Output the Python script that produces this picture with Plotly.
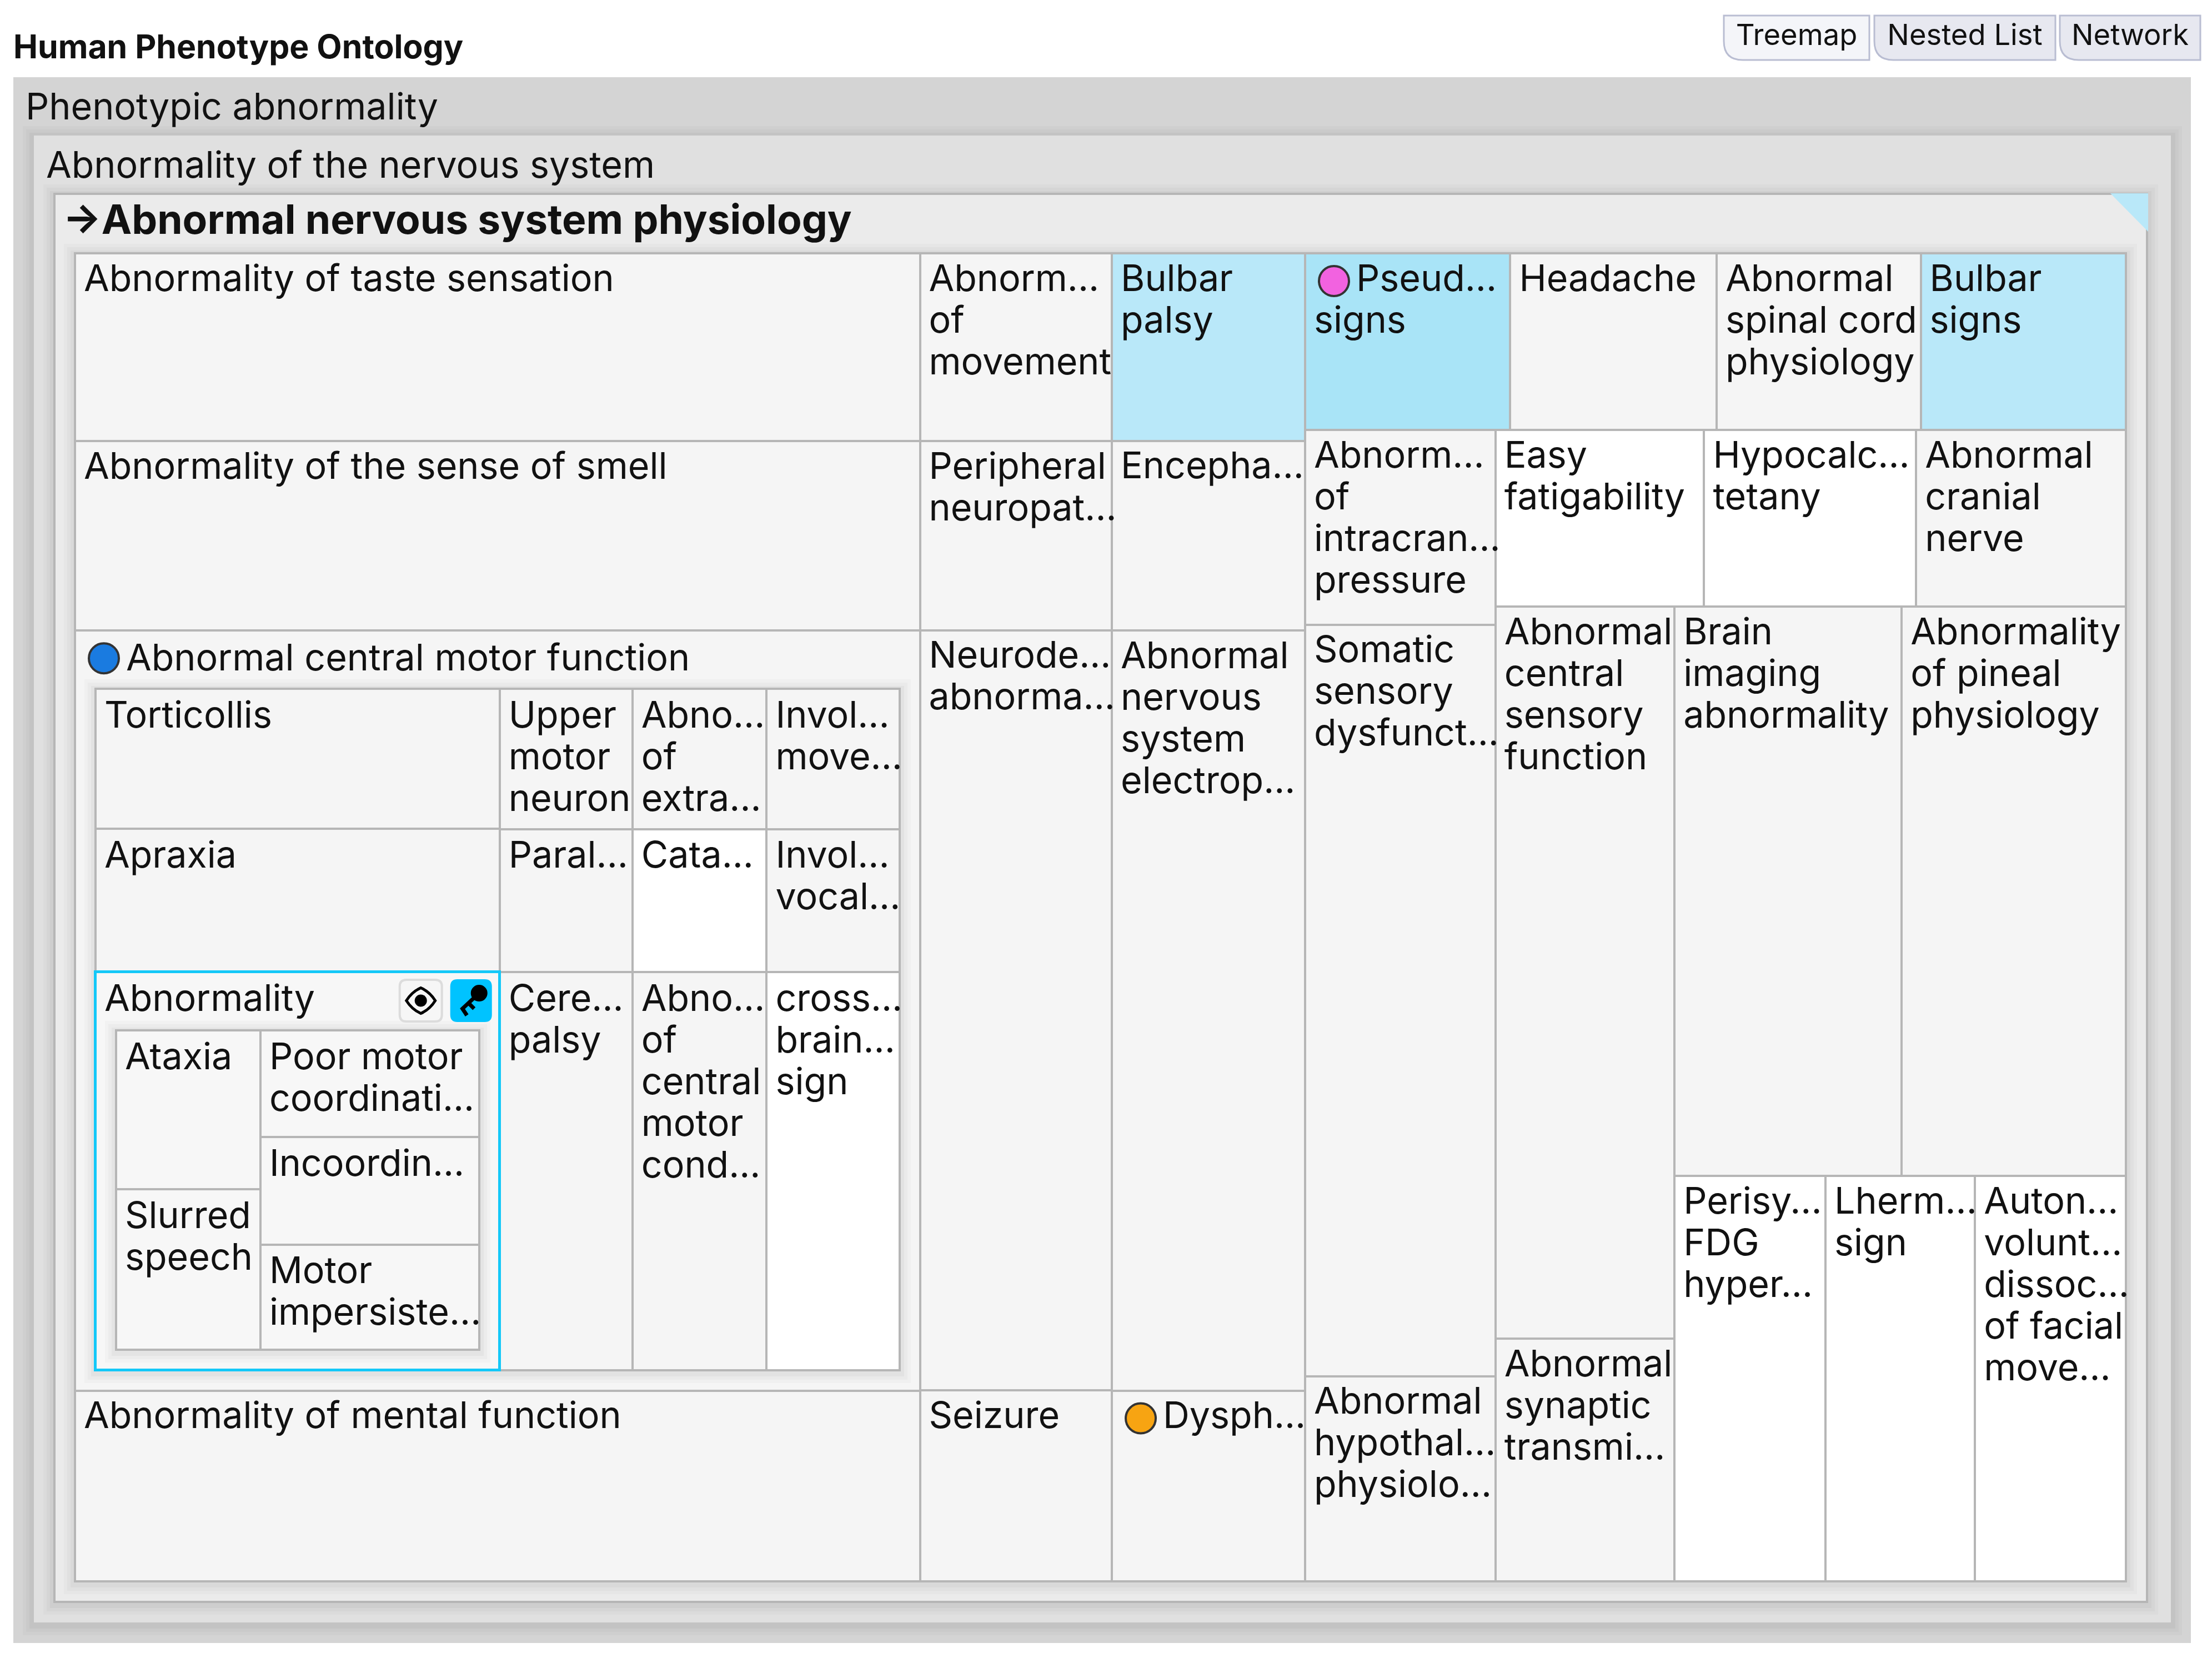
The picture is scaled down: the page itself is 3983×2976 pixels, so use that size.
import plotly.graph_objects as go

# tree of the treemap: id, parent, label and tile value
# groups with value None are only there to get the same rows and columns
NODE_IDS = ["pheno", "nervous", "physio",
            "col_a", "taste", "smell", "central", "mental",
            "col_b", "movement", "peripheral", "neurodeg", "seizure",
            "col_c", "palsy", "enceph", "electro", "dysph",
            "right", "r1", "pseud", "headache", "spinal", "bsigns",
            "r2", "r2a", "intracran", "somatic", "hypothal",
            "r2b", "r2b1", "easy", "hypocalc", "cranial",
            "r2b2", "r2c", "sensory", "synaptic",
            "r2d", "r2d1", "imaging", "pineal",
            "r2d2", "perisyl", "lherm", "auton",
            "m1", "torti", "apraxia", "abn",
            "m2", "upper", "paral", "cerebral",
            "m3", "extra", "cata", "conduct",
            "m4", "invol_move", "invol_vocal", "cross",
            "a1", "ataxia", "slurred",
            "a2", "poor", "incoord", "impersist"]
NODE_PARENTS = ["", "pheno", "nervous",
                "physio", "col_a", "col_a", "col_a", "col_a",
                "physio", "col_b", "col_b", "col_b", "col_b",
                "physio", "col_c", "col_c", "col_c", "col_c",
                "physio", "right", "r1", "r1", "r1", "r1",
                "right", "r2", "r2a", "r2a", "r2a",
                "r2", "r2b", "r2b1", "r2b1", "r2b1",
                "r2b", "r2b2", "r2c", "r2c",
                "r2b2", "r2d", "r2d1", "r2d1",
                "r2d", "r2d2", "r2d2", "r2d2",
                "central", "m1", "m1", "m1",
                "central", "m2", "m2", "m2",
                "central", "m3", "m3", "m3",
                "central", "m4", "m4", "m4",
                "abn", "a1", "a1",
                "abn", "a2", "a2", "a2"]
NODE_VALUES = [None, None, None,
               None, 797, 803, 3223, 809,
               None, 181, 182, 732, 184,
               None, 182, 184, 737, 185,
               None, None, 182, 183, 181, 182,
               None, None, 186, 718, 196,
               None, None, 185, 188, 186,
               None, None, 658, 218,
               None, None, 649, 641,
               None, 307, 304, 307,
               None, 283, 289, 804,
               None, 93, 95, 264,
               None, 94, 96, 267,
               None, 93, 95, 264,
               None, 114, 115,
               None, 116, 117, 114]
NODE_LABELS = ["Phenotypic abnormality", "Abnormality of the nervous system",
               "→Abnormal nervous system physiology",
               "", "Abnormality of taste sensation", "Abnormality of the sense of smell",
               "Abnormal central motor function", "Abnormality of mental function",
               "", "Abnorm...<br>of<br>movement", "Peripheral<br>neuropat...", "Neurode...<br>abnorma...", "Seizure",
               "", "Bulbar<br>palsy", "Encepha...", "Abnormal<br>nervous<br>system<br>electrop...", "Dysph...",
               "", "", "Pseud...<br>signs", "Headache", "Abnormal<br>spinal cord<br>physiology", "Bulbar<br>signs",
               "", "", "Abnorm...<br>of<br>intracran...<br>pressure", "Somatic<br>sensory<br>dysfunct...",
               "Abnormal<br>hypothal...<br>physiolo...",
               "", "", "Easy<br>fatigability", "Hypocalc...<br>tetany", "Abnormal<br>cranial<br>nerve",
               "", "", "Abnormal<br>central<br>sensory<br>function", "Abnormal<br>synaptic<br>transmi...",
               "", "", "Brain<br>imaging<br>abnormality", "Abnormality<br>of pineal<br>physiology",
               "", "Perisy...<br>FDG<br>hyper...", "Lherm...<br>sign", "Auton...<br>volunt...<br>dissoc...<br>of facial<br>move...",
               "", "Torticollis", "Apraxia", "Abnormality",
               "", "Upper<br>motor<br>neuron", "Paral...", "Cere...<br>palsy",
               "", "Abno...<br>of<br>extra...", "Cata...", "Abno...<br>of<br>central<br>motor<br>cond...",
               "", "Invol...<br>move...", "Invol...<br>vocal...", "cross...<br>brain...<br>sign",
               "", "Ataxia", "Slurred<br>speech",
               "", "Poor motor<br>coordinati...", "Incoordin...", "Motor<br>impersiste..."]

HEADER_NODES = ["pheno", "nervous", "physio", "central", "abn"]
ROW_SPLIT = ["col_a", "col_b", "col_c", "right", "r2a", "r2b", "r2c", "r2d",
             "m1", "m2", "m3", "m4", "a1", "a2"]
WHITE_NODES = ["easy", "hypocalc", "perisyl", "lherm", "auton", "cata", "cross"]
BLUE_NODES = ["palsy", "bsigns"]
BULLET_NODES = ["central", "pseud", "dysph"]
BULLET_COLORS = ["#1a7be0", "#f262e0", "#f7a412"]
TAB_LABELS = ["Treemap", "Nested List", "Network"]
TAB_EDGES = [(3104, 3366), (3375, 3701), (3709, 3962)]
TAB_FILLS = ["#f4f5f9", "#e7e8f0", "#e7e8f0"]

W, H = 3983, 2976
ROOT_BOX = (24, 139, 3945, 2958)
HEADER = {"physio": 107}
PAD = 37
PAD_RIGHT = {"pheno": 36, "nervous": 43, "physio": 38}
LINE_H = 75
FONT = "Inter"
FS = 66.3

children = {}
for nid, par in zip(NODE_IDS, NODE_PARENTS):
    children.setdefault(par, []).append(nid)
value_of = dict(zip(NODE_IDS, NODE_VALUES))
label_of = dict(zip(NODE_IDS, NODE_LABELS))
parent_of = dict(zip(NODE_IDS, NODE_PARENTS))


def total(nid):
    if value_of[nid] is not None:
        return value_of[nid]
    return sum(total(c) for c in children.get(nid, []))


boxes = {}
bars = []  # x0, y0, x1, y1, fill, line colour, line width


def add_bar(x0, y0, x1, y1, fill, line="rgba(0,0,0,0)", lw=0):
    bars.append((x0, y0, x1, y1, fill, line, lw))


def fill_of(nid):
    if nid == "pheno":
        return "#d4d4d4"
    if nid == "nervous":
        return "#e0e0e0"
    if nid == "physio":
        return "#ebebeb"
    if nid in WHITE_NODES:
        return "#ffffff"
    if nid in BLUE_NODES:
        return "#b9e8f9"
    if nid == "pseud":
        return "#a9e4f7"
    if nid in ("abn", "ataxia", "slurred", "poor", "incoord", "impersist"):
        return "#f7f7f7"
    return "#f5f5f5"


def layout(nid, x0, y0, x1, y1):
    boxes[nid] = (x0, y0, x1, y1)
    kids = children.get(nid, [])
    if label_of[nid]:
        if nid == "pheno" or nid == "nervous":
            add_bar(x0, y0, x1, y1, fill_of(nid))
        else:
            add_bar(x0, y0, x1, y1, fill_of(nid), "#b6b6b6", 4)
    if not kids:
        return
    if nid in HEADER_NODES:
        x0 += PAD
        y0 += HEADER.get(nid, 105)
        x1 -= PAD_RIGHT.get(nid, PAD)
        y1 -= PAD
        # soft box shadow around the nested block
        for grow, alpha in [(20, 0.02), (14, 0.025), (8, 0.03)]:
            add_bar(x0 - grow, y0 - grow + 3, x1 + grow, y1 + grow + 3, "rgba(0,0,0,%s)" % alpha)
    sum_v = sum(total(k) for k in kids)
    pos = y0 if nid in ROW_SPLIT else x0
    for k in kids:
        if nid in ROW_SPLIT:
            end = pos + (y1 - y0) * total(k) / sum_v
            layout(k, x0, pos, x1, end)
        else:
            end = pos + (x1 - x0) * total(k) / sum_v
            layout(k, pos, y0, end, y1)
        pos = end


def inside_central(nid):
    while nid:
        nid = parent_of[nid]
        if nid == "central":
            return True
    return False


def first_line_y(nid, top):
    if nid in ("pheno", "nervous"):
        return top + 59
    if nid == "central":
        return top + 55
    if inside_central(nid):
        return top + 53
    return top + 51


def rounded_rect(x0, y0, x1, y1, r):
    return (f"M {x0 + r} {y0} L {x1 - r} {y0} Q {x1} {y0} {x1} {y0 + r} L {x1} {y1 - r} "
            f"Q {x1} {y1} {x1 - r} {y1} L {x0 + r} {y1} Q {x0} {y1} {x0} {y1 - r} "
            f"L {x0} {y0 + r} Q {x0} {y0} {x0 + r} {y0} Z")


# children of pheno/nervous/physio take the whole inner box
value_of["nervous"] = 1
value_of["physio"] = 1
layout("pheno", *ROOT_BOX)

fig = go.Figure()
fig.add_trace(go.Bar(
    x=[(b[0] + b[2]) / 2 for b in bars],
    width=[b[2] - b[0] for b in bars],
    base=[b[1] for b in bars],
    y=[b[3] - b[1] for b in bars],
    marker=dict(color=[b[4] for b in bars],
                line=dict(color=[b[5] for b in bars], width=[b[6] for b in bars])),
    hoverinfo="skip", showlegend=False))

# selected tile outline sits over its neighbours
sel = boxes["abn"]
fig.add_trace(go.Bar(
    x=[(sel[0] + sel[2]) / 2], width=[sel[2] - sel[0]], base=[sel[1]], y=[sel[3] - sel[1]],
    marker=dict(color="rgba(0,0,0,0)", line=dict(color="#14c8f8", width=5)),
    hoverinfo="skip", showlegend=False))


def text_trace(xs, ys, txt, size, weight="normal", pos="middle right"):
    fig.add_trace(go.Scatter(
        x=xs, y=ys, text=txt, mode="text", textposition=pos, cliponaxis=False,
        textfont=dict(family=FONT, size=size, color="#111111", weight=weight),
        hoverinfo="skip", showlegend=False))


# tile labels, one point per line so the line pitch matches
tx, ty, tt = [], [], []
for nid in NODE_IDS:
    if not label_of[nid] or nid == "physio":
        continue
    b = boxes[nid]
    inset = 22 if nid in ("pheno", "nervous") else 16
    first_y = first_line_y(nid, b[1])
    for i, line in enumerate(label_of[nid].split("<br>")):
        indent = 76 if (i == 0 and nid in BULLET_NODES) else 0
        tx.append(b[0] + inset + indent)
        ty.append(first_y + i * LINE_H)
        tt.append(line)
text_trace(tx, ty, tt, FS)

pb = boxes["physio"]
text_trace([pb[0] + 15], [pb[1] + 54], [label_of["physio"]], 73, "bold")
text_trace([24], [90], ["Human Phenotype Ontology"], 58.9, "bold")

# bullets in front of some labels
fig.add_trace(go.Scatter(
    x=[boxes[n][0] + 52 for n in BULLET_NODES], y=[boxes[n][1] + 50 for n in BULLET_NODES],
    mode="markers",
    marker=dict(size=54, color=BULLET_COLORS, line=dict(color="#333333", width=4)),
    hoverinfo="skip", showlegend=False))

# corner flag of the focused node
fig.add_trace(go.Scatter(
    x=[pb[2] - 66, pb[2] + 2, pb[2] + 2, pb[2] - 66],
    y=[pb[1] - 1, pb[1] - 1, pb[1] + 68, pb[1] - 1],
    mode="lines", fill="toself", fillcolor="#b9e8f9", line=dict(width=0),
    hoverinfo="skip", showlegend=False))

# view switch tabs
for label, (x0, x1), color in zip(TAB_LABELS, TAB_EDGES, TAB_FILLS):
    y0, y1, r = 28, 108, 34
    fig.add_shape(type="path", layer="below",
                  path=f"M {x0} {y0} L {x1} {y0} L {x1} {y1} L {x0 + r} {y1} Q {x0} {y1} {x0} {y1 - r} Z",
                  fillcolor=color, line=dict(color="#b9bdd2", width=3))
text_trace([(e[0] + e[1]) / 2 for e in TAB_EDGES], [68] * 3, TAB_LABELS, 52.5, pos="middle center")

# two small buttons in the selected tile
ax, ay = sel[2], sel[1]
ex0, ex1, kx0, kx1 = ax - 180, ax - 104, ax - 88, ax - 15
by0, by1 = ay + 14, ay + 89
fig.add_shape(type="path", path=rounded_rect(ex0, by0, ex1, by1, 12), fillcolor="#f6f6f6",
              line=dict(color="#dcdcdc", width=4))
fig.add_shape(type="path", path=rounded_rect(kx0, by0, kx1, by1, 12), fillcolor="#00c3ff",
              line=dict(color="#00c3ff", width=2))
cx, cy = (ex0 + ex1) / 2, (by0 + by1) / 2
fig.add_shape(type="path",
              path=(f"M {cx - 26} {cy} Q {cx - 16} {cy - 16} {cx} {cy - 23} Q {cx + 16} {cy - 16} {cx + 26} {cy} "
                    f"Q {cx + 16} {cy + 16} {cx} {cy + 23} Q {cx - 16} {cy + 16} {cx - 26} {cy} Z"),
              fillcolor="rgba(0,0,0,0)", line=dict(color="#000000", width=5))
fig.add_shape(type="circle", x0=cx - 11, x1=cx + 11, y0=cy - 11, y1=cy + 11, fillcolor="#000000", line=dict(width=0))
kx, ky = kx0 + 51, by0 + 24
fig.add_shape(type="circle", x0=kx - 15, x1=kx + 15, y0=ky - 15, y1=ky + 15, fillcolor="#000000", line=dict(width=0))
fig.add_shape(type="path",
              path=f"M {kx} {ky} L {kx - 30} {ky + 28} L {kx - 22} {ky + 40} M {kx - 19} {ky + 18} L {kx - 9} {ky + 28}",
              line=dict(color="#000000", width=7))

fig.update_layout(
    width=W, height=H, margin=dict(l=0, r=0, t=0, b=0), barmode="overlay", bargap=0,
    paper_bgcolor="#ffffff", plot_bgcolor="#ffffff", showlegend=False,
    xaxis=dict(visible=False, range=[0, W], type="linear"),
    yaxis=dict(visible=False, range=[H, 0], type="linear"))

fig.write_html("out.html", config=dict(displayModeBar=False),
               post_script="document.body.style.margin='0';")
